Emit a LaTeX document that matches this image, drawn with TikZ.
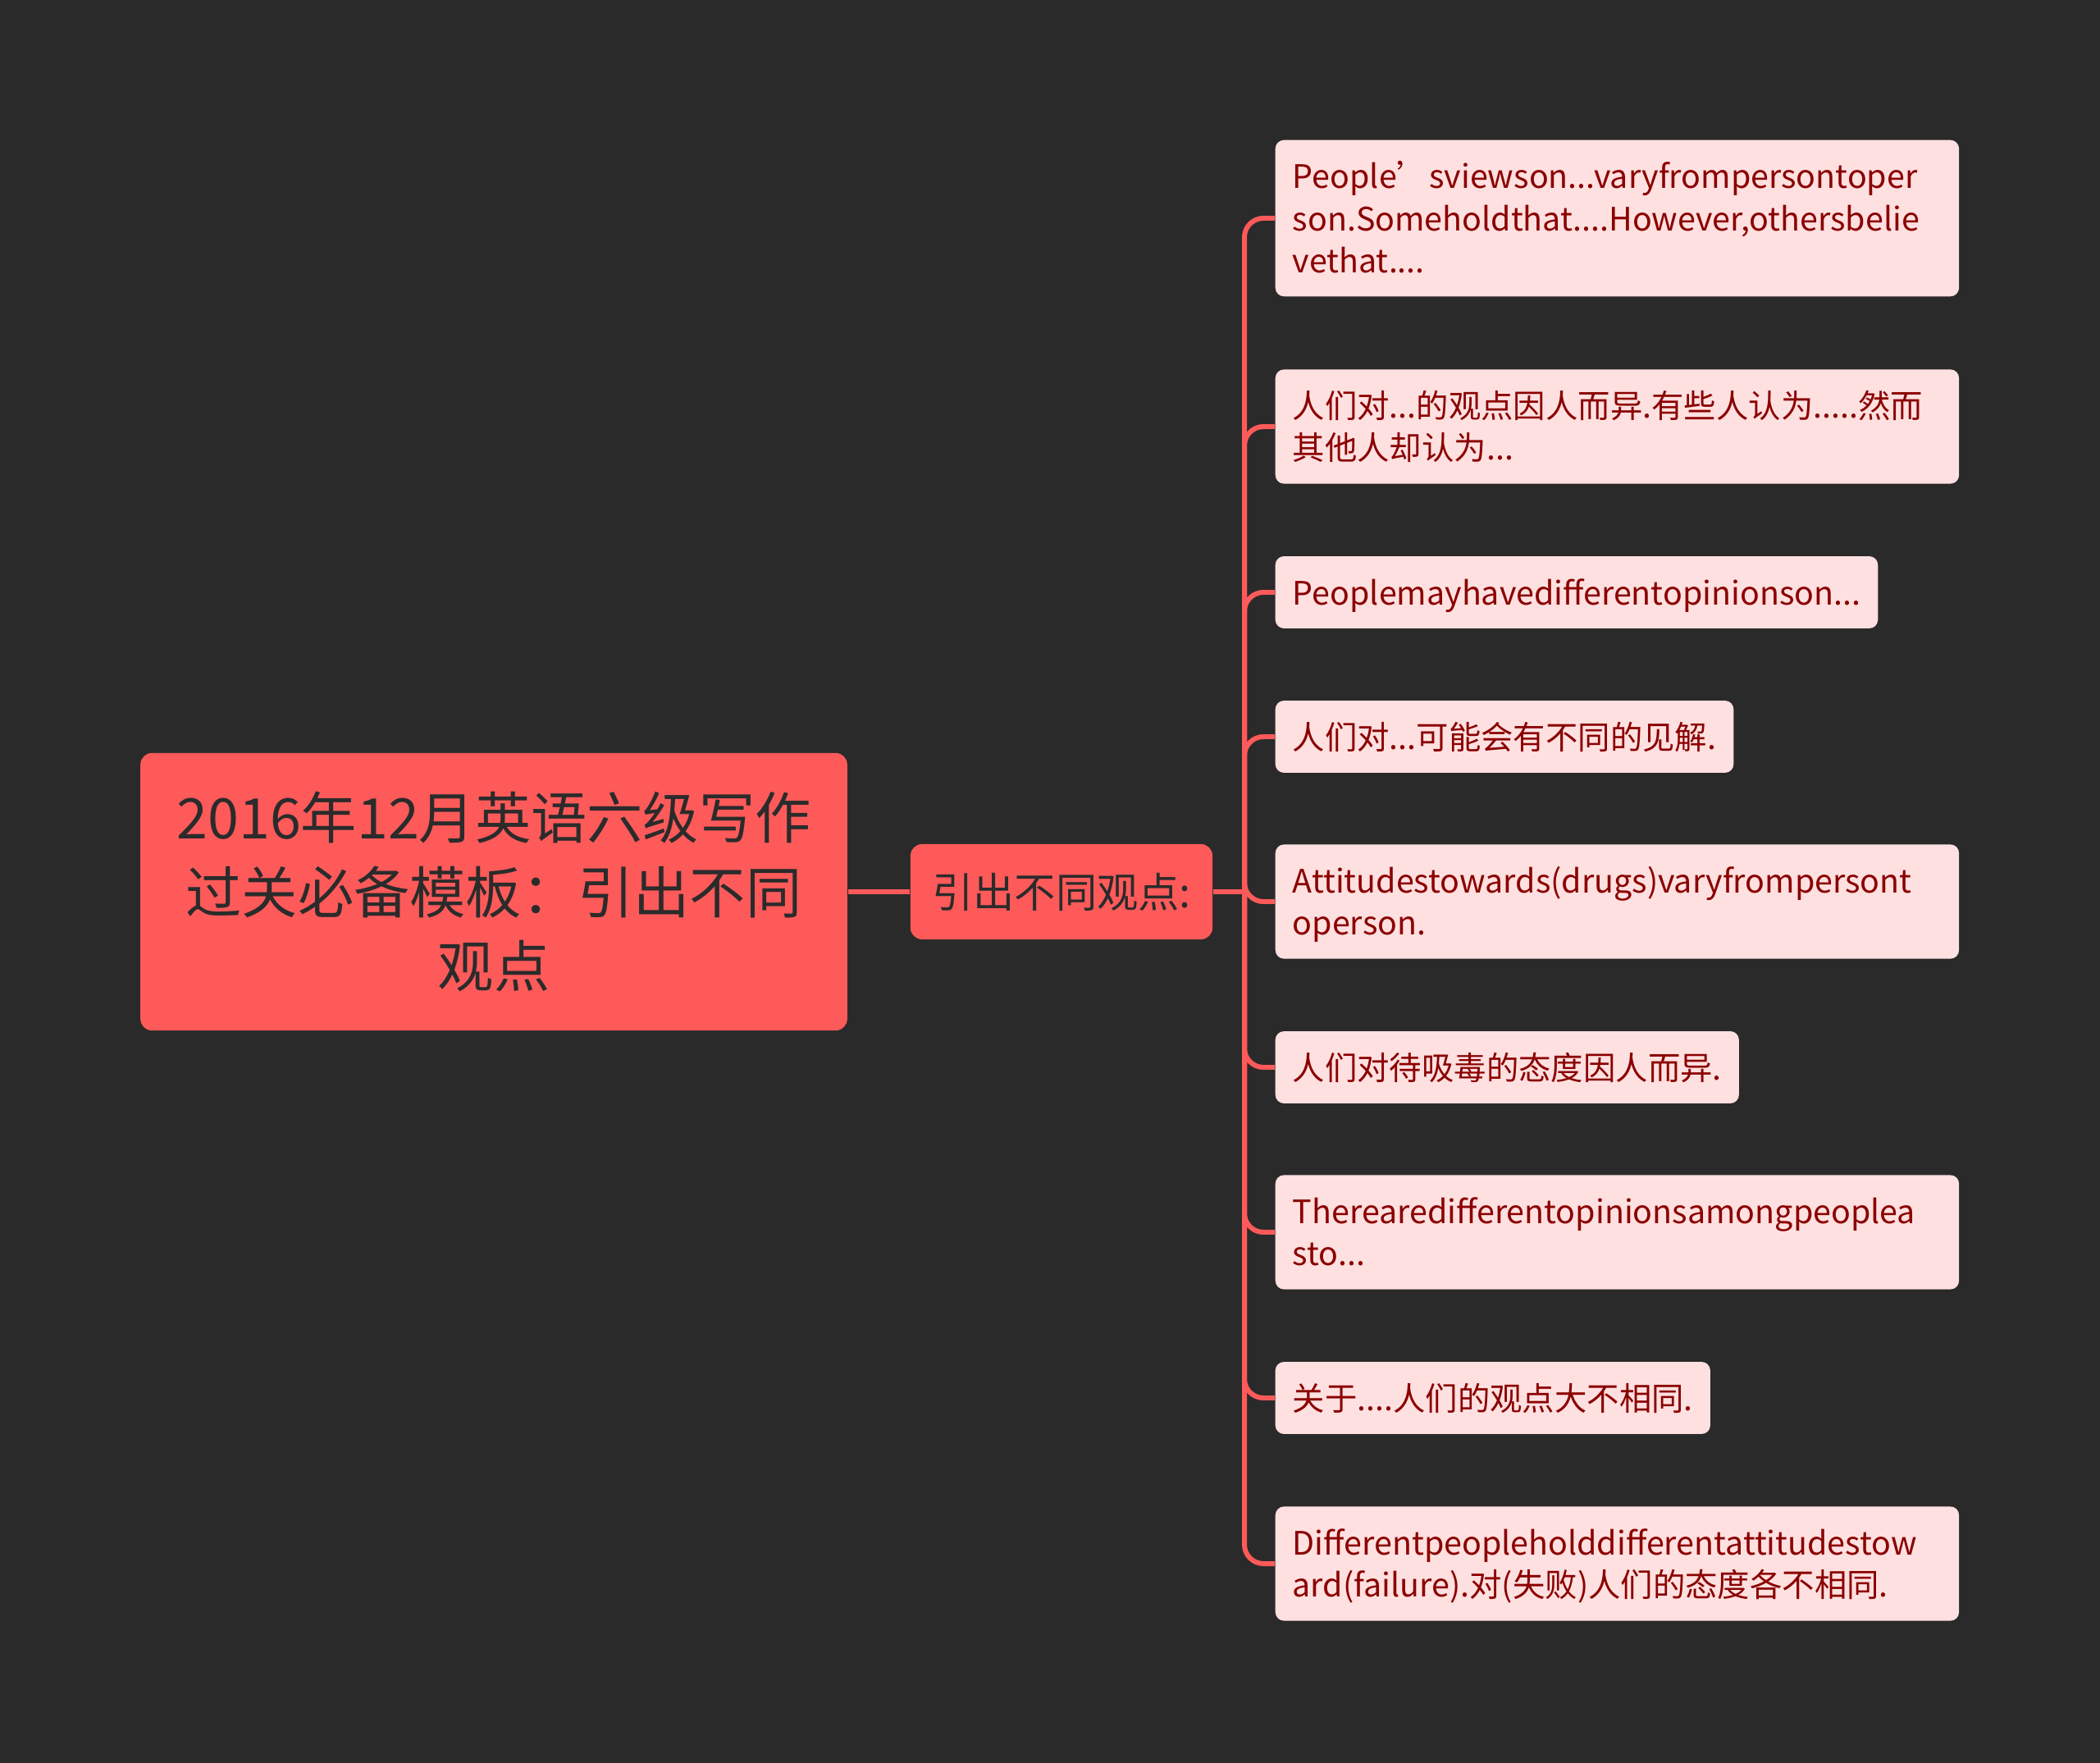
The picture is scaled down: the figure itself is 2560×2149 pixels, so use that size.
\documentclass[tikz,border=0pt]{standalone}
\usepackage{fontspec}
\newfontfamily\cjk{Noto Sans CJK SC}
\definecolor{bgdark}{HTML}{2A2A2A}
\definecolor{coral}{HTML}{FF5A5A}
\definecolor{blush}{HTML}{FFE0E0}
\definecolor{wine}{HTML}{8B0000}
\definecolor{ink}{HTML}{2B2B2B}
\hyphenpenalty=10000
\exhyphenpenalty=10000
\begin{document}
\begin{tikzpicture}[x=0.01cm,y=-0.01cm,
  topic/.style={fill=coral, text=ink, rounded corners=4pt, align=center, inner sep=0pt},
  leaf/.style={fill=blush, text=wine, rounded corners=3pt, anchor=west, align=left,
    inner xsep=6pt, inner ysep=5.2pt,
    font=\cjk\fontsize{11.2pt}{14.6pt}\selectfont,
    execute at begin node=\rule[-2.98pt]{0pt}{14.6pt},
    execute at end node=\rule[-2.98pt]{0pt}{11.78pt}},
  wide/.style={text width=225pt},
  link/.style={draw=coral, line width=1.7pt, rounded corners=6.6pt}]
\fill[bgdark] (0,0) rectangle (2560,2149);

\node[topic, minimum width=245pt, minimum height=96.2pt, font=\cjk\fontsize{19.4pt}{25.8pt}\selectfont] (root) at (602,1087) {2016年12月英语六级写作\\过关必备模板：引出不同\\观点};
\node[topic, minimum width=104.7pt, minimum height=33pt, font=\cjk\fontsize{14.3pt}{18pt}\selectfont] (intro) at (1294,1087) {引出不同观点:};
\coordinate (hub) at (1517,1087);

\node[leaf, wide] (1) at (1554,266) {People’sviewson...varyfrompersontoper\\son.Someholdthat....However,othersbelie\\vethat....};
\node[leaf, wide] (2) at (1554,520) {人们对...的观点因人而异.有些人认为.....然而\\其他人却认为...};
\node[leaf] (3) at (1554,722) {Peoplemayhavedifferentopinionson...};
\node[leaf] (4) at (1554,898) {人们对...可能会有不同的见解.};
\node[leaf, wide] (5) at (1554,1099) {Attitudestowards(drugs)varyfrompersont\\operson.};
\node[leaf] (6) at (1554,1301) {人们对待吸毒的态度因人而异.};
\node[leaf, wide] (7) at (1554,1502) {Therearedifferentopinionsamongpeoplea\\sto...};
\node[leaf] (8) at (1554,1704) {关于....人们的观点大不相同.};
\node[leaf, wide] (9) at (1554,1906) {Differentpeopleholddifferentattitudestow\\ard(failure).对(失败)人们的态度各不相同.};

\path[link] (root) -- (intro);
\path[link] (intro) -- (hub);
\path[link] (hub) |- (1);
\path[link] (hub) |- (2);
\path[link] (hub) |- (3);
\path[link] (hub) |- (4);
\path[link] (hub) |- (5);
\path[link] (hub) |- (6);
\path[link] (hub) |- (7);
\path[link] (hub) |- (8);
\path[link] (hub) |- (9);
\end{tikzpicture}
\end{document}
